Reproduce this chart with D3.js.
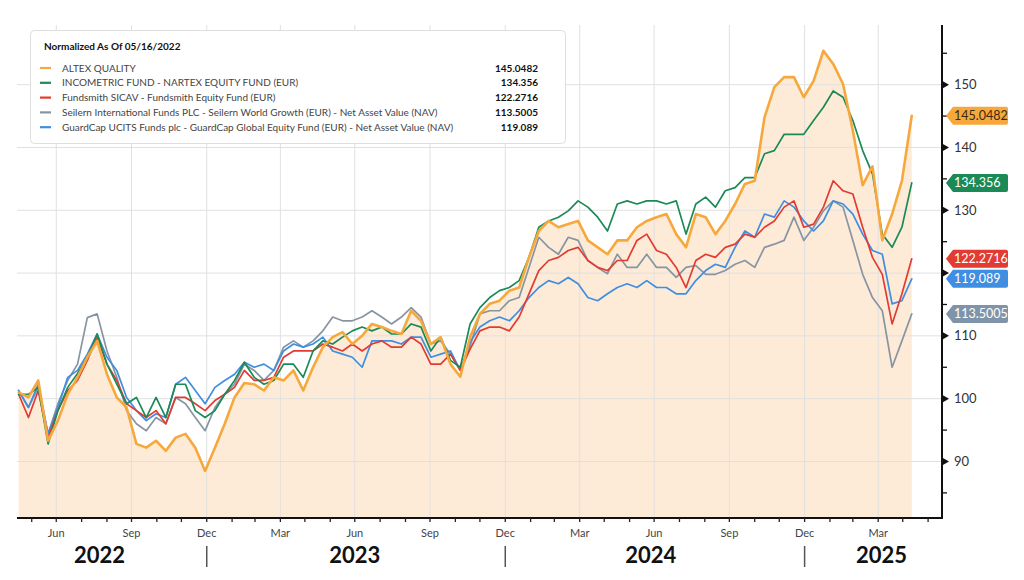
<!DOCTYPE html>
<html>
<head>
<meta charset="utf-8">
<script src="https://cdn.jsdelivr.net/npm/d3@7"></script>
<style>
  body { margin: 0; background: #fff; }
  svg { font-family: Lato, "Open Sans", sans-serif; }
  .grid line { stroke: #e0e0e0; stroke-width: 1; }
  .series { fill: none; stroke-linejoin: round; stroke-linecap: round; }
</style>
</head>
<body>
<div id="chart-container"></div>
<script>

// Data: one value every 12 days, starting 05/16/2022.
const startDate = new Date(2022, 4, 16);
const stepDays = 12;

const seriesNames = [
  "ALTEX QUALITY",
  "INCOMETRIC FUND - NARTEX EQUITY FUND (EUR)",
  "Fundsmith SICAV - Fundsmith Equity Fund (EUR)",
  "Seilern International Funds PLC - Seilern World Growth (EUR) - Net Asset Value (NAV)",
  "GuardCap UCITS Funds plc - GuardCap Global Equity Fund (EUR) - Net Asset Value (NAV)"
];
const lastValues = ["145.0482", "134.356", "122.2716", "113.5005", "119.089"];

const altex = [
  101.0, 100.2, 102.9, 93.3, 96.5, 100.7, 103.4, 106.6, 109.2, 103.9, 100.2, 98.6, 92.8, 92.2, 93.3, 91.7, 93.8, 94.4, 92.2, 88.5, 92.2, 96.0, 100.2, 102.5,
  102.3, 101.3, 103.4, 102.9, 104.5, 101.3, 105.0, 108.2, 109.8, 110.6, 108.7, 110.0, 111.9, 111.4, 110.8, 110.3, 114.0, 112.4, 108.7, 109.8, 105.5, 103.5, 109.8,
  113.5, 115.1, 115.6, 117.2, 117.7, 122.5, 126.7, 128.3, 127.3, 127.8, 128.3, 125.2, 124.1, 123.0, 125.2, 125.2, 127.3, 128.3, 128.9, 129.4, 126.2, 124.1,
  129.4, 128.9, 126.2, 128.3, 131.0, 134.2, 134.7, 144.8, 149.6, 151.2, 151.2, 148.0, 150.6, 155.4, 153.3, 150.1, 142.7, 134.0, 137.0, 125.2, 129.4, 134.7, 145.0482
];
const incometric = [
  100.7, 100.7, 101.8, 92.8, 98.1, 101.8, 104.0, 106.6, 110.3, 105.5, 102.3, 99.2, 100.2, 97.0, 100.2, 97.0, 102.3, 102.3, 98.1, 97.0, 98.1, 100.7, 102.9, 105.8,
  103.4, 102.3, 102.9, 105.5, 105.5, 103.4, 107.6, 109.2, 108.7, 109.8, 110.8, 111.4, 110.8, 111.4, 110.3, 110.3, 111.9, 111.4, 107.6, 109.8, 106.1, 105.0, 111.9,
  114.5, 116.1, 117.2, 117.7, 118.8, 122.5, 127.3, 128.3, 128.9, 129.9, 131.5, 130.5, 128.9, 126.7, 131.0, 131.5, 131.0, 131.5, 131.5, 131.0, 131.5, 126.2,
  131.0, 132.1, 130.5, 133.1, 133.6, 135.2, 135.2, 139.0, 139.5, 142.1, 142.1, 142.1, 144.3, 146.4, 149.0, 148.0, 144.3, 139.5, 135.8, 126.2, 124.1, 127.3, 134.356
];
const fundsmith = [
  100.7, 97.0, 101.3, 93.8, 98.1, 101.3, 102.9, 106.1, 109.8, 105.5, 102.9, 99.2, 98.1, 97.0, 98.1, 96.0, 100.2, 100.2, 99.2, 98.1, 99.7, 100.7, 101.8, 104.5,
  102.9, 102.9, 103.4, 106.6, 107.6, 107.6, 107.6, 108.7, 108.2, 107.6, 108.7, 107.6, 108.7, 109.2, 108.2, 108.2, 109.8, 108.7, 105.5, 105.5, 107.1, 104.5, 107.9,
  110.8, 111.4, 111.4, 110.8, 113.0, 116.7, 120.4, 122.0, 122.5, 123.6, 124.1, 122.0, 120.9, 120.4, 122.0, 122.0, 125.2, 126.2, 123.6, 123.0, 120.9, 117.7,
  122.0, 123.0, 122.5, 124.1, 124.6, 126.2, 125.7, 127.3, 128.3, 130.5, 131.5, 127.3, 127.8, 130.5, 134.7, 133.1, 132.6, 127.3, 122.5, 119.8, 111.9, 116.7, 122.2716
];
const seilern = [
  101.3, 98.6, 101.8, 94.4, 99.2, 102.9, 105.5, 112.9, 113.5, 107.6, 103.4, 98.1, 96.0, 94.9, 97.0, 96.0, 100.2, 99.2, 97.0, 94.9, 98.6, 100.7, 102.3, 105.5,
  104.5, 102.9, 104.5, 108.2, 109.2, 108.2, 109.2, 110.8, 113.0, 112.4, 112.4, 113.0, 114.0, 113.0, 111.9, 113.0, 114.5, 113.0, 108.7, 109.2, 107.1, 104.5, 108.4,
  113.5, 114.0, 114.0, 115.6, 116.1, 120.9, 125.7, 124.1, 123.0, 125.7, 125.2, 122.0, 120.9, 119.9, 123.0, 120.9, 120.9, 123.0, 120.9, 120.9, 119.3, 120.9,
  121.2, 119.8, 119.8, 120.4, 121.4, 122.0, 120.9, 124.1, 124.6, 125.2, 128.9, 125.2, 127.3, 129.9, 131.5, 130.5, 125.2, 119.8, 116.1, 114.0, 105.0, 109.2, 113.5005
];
const guardcap = [
  101.3, 98.6, 102.3, 94.4, 98.6, 103.4, 104.5, 107.1, 110.3, 106.6, 104.5, 100.2, 98.1, 96.5, 97.6, 97.0, 102.3, 103.4, 101.3, 99.2, 101.8, 102.9, 103.9, 105.8,
  105.0, 105.5, 104.5, 107.6, 108.7, 108.2, 108.7, 109.8, 107.6, 107.1, 106.6, 105.0, 109.2, 109.2, 109.2, 108.7, 109.8, 109.8, 106.6, 107.1, 107.6, 104.5, 109.0,
  111.4, 112.4, 113.0, 112.4, 114.0, 116.1, 117.7, 118.8, 118.3, 119.3, 118.3, 116.1, 115.6, 116.7, 117.7, 118.3, 117.7, 118.8, 117.7, 117.7, 116.7, 116.7,
  118.8, 120.4, 121.4, 120.9, 124.1, 126.7, 125.7, 129.4, 128.9, 131.5, 130.5, 128.3, 126.7, 128.3, 131.5, 131.0, 129.4, 126.2, 123.6, 123.0, 115.1, 115.6, 119.089
];

const yTicks = [90, 100, 110, 120, 130, 140, 150];
const yMinorTicks = [85, 95, 105, 115, 125, 135, 145, 155];
const yearLabels = ["2022", "2023", "2024", "2025"];
const yearLabelDates = [new Date(2022, 7, 23), new Date(2023, 6, 1), new Date(2024, 5, 27), new Date(2025, 3, 5)];
const yearBreaks = [new Date(2023, 0, 1), new Date(2024, 0, 1), new Date(2025, 0, 1)];

const allSeries = [altex, incometric, fundsmith, seilern, guardcap];
const colors = ["#f6a83c", "#1b8a57", "#e23b32", "#8795a2", "#3f8ee2"];
const badgeColors = ["#f6a83c", "#1b8a57", "#e23b32", "#7f94a8", "#3f8ee2"];
const badgeText = ["#3b2a12", "#fff", "#fff", "#fff", "#fff"];
const widths = [2.6, 1.7, 1.7, 1.7, 1.7];

// Sizing.
const fWidth = 1024, fHeight = 580;
const plot = { left: 17, right: 942, top: 25, bottom: 518 };

const svg = d3.select("#chart-container").append("svg")
  .attr("width", fWidth)
  .attr("height", fHeight);

const xScale = d3.scaleTime()
  .domain([new Date(2022, 4, 14), new Date(2025, 5, 18)])
  .range([plot.left, plot.right]);

const yScale = d3.scaleLinear()
  .domain([81, 159.5])
  .range([plot.bottom, plot.top]);

const dateAt = i => d3.timeDay.offset(startDate, i * stepDays);
const lastY = allSeries.map(s => yScale(s[s.length - 1]));

// Peach area under ALTEX.
const areaGen = d3.area()
  .x((d, i) => xScale(dateAt(i)))
  .y0(plot.bottom)
  .y1(d => yScale(d));

svg.append("path")
  .attr("d", areaGen(altex))
  .attr("fill", "#fdebd8");

// Grid.
const quarterTicks = xScale.ticks(d3.timeMonth.every(3));
const grid = svg.append("g").attr("class", "grid");

grid.selectAll(".hgrid")
  .data(yTicks)
  .enter()
  .append("line")
    .attr("x1", plot.left)
    .attr("x2", plot.right)
    .attr("y1", d => yScale(d))
    .attr("y2", d => yScale(d));

grid.selectAll(".vgrid")
  .data(quarterTicks)
  .enter()
  .append("line")
    .attr("x1", d => xScale(d))
    .attr("x2", d => xScale(d))
    .attr("y1", plot.top)
    .attr("y2", plot.bottom);

// Lines, drawn bottom series first so ALTEX sits on top.
const lineGen = d3.line()
  .x((d, i) => xScale(dateAt(i)))
  .y(d => yScale(d));

const order = [3, 4, 2, 1, 0];
svg.append("g")
  .selectAll("path")
  .data(order)
  .enter()
  .append("path")
    .attr("class", "series")
    .attr("d", k => lineGen(allSeries[k]))
    .attr("stroke", k => colors[k])
    .attr("stroke-width", k => widths[k]);

// Axes.
svg.append("line")
  .attr("x1", plot.left).attr("x2", plot.right)
  .attr("y1", plot.bottom).attr("y2", plot.bottom)
  .attr("stroke", "#111").attr("stroke-width", 2);

svg.append("line")
  .attr("x1", plot.right).attr("x2", plot.right)
  .attr("y1", plot.top).attr("y2", plot.bottom + 1)
  .attr("stroke", "#111").attr("stroke-width", 2);

// Month ticks.
svg.append("g")
  .selectAll("line")
  .data(xScale.ticks(d3.timeMonth))
  .enter()
  .append("line")
    .attr("x1", d => xScale(d))
    .attr("x2", d => xScale(d))
    .attr("y1", plot.bottom)
    .attr("y2", plot.bottom + 4)
    .attr("stroke", "#222")
    .attr("stroke-width", 1.3);

// Quarter labels name the month that ends at the grid line.
const monthFmt = d3.timeFormat("%b");
svg.append("g")
  .selectAll("text")
  .data(quarterTicks)
  .enter()
  .append("text")
    .attr("x", d => xScale(d))
    .attr("y", 537)
    .attr("text-anchor", "middle")
    .attr("font-size", 11)
    .attr("fill", "#444")
    .text(d => monthFmt(d3.timeMonth.offset(d, -1)));

svg.append("g")
  .selectAll("text")
  .data(yearLabels)
  .enter()
  .append("text")
    .attr("x", (d, i) => xScale(yearLabelDates[i]))
    .attr("y", 563)
    .attr("text-anchor", "middle")
    .attr("font-size", 22)
    .attr("font-weight", 700)
    .attr("fill", "#111")
    .text(d => d);

svg.append("g")
  .selectAll("line")
  .data(yearBreaks)
  .enter()
  .append("line")
    .attr("x1", d => xScale(d))
    .attr("x2", d => xScale(d))
    .attr("y1", 546)
    .attr("y2", 567)
    .attr("stroke", "#555")
    .attr("stroke-width", 1.5);

// Y ticks: triangles for labelled values, short marks in between.
svg.append("g")
  .selectAll("path")
  .data(yTicks)
  .enter()
  .append("path")
    .attr("d", d => `M${plot.right},${yScale(d) - 4} L${plot.right + 7},${yScale(d)} L${plot.right},${yScale(d) + 4} Z`)
    .attr("fill", "#111");

svg.append("g")
  .selectAll("line")
  .data(yMinorTicks)
  .enter()
  .append("line")
    .attr("x1", plot.right)
    .attr("x2", plot.right + 5)
    .attr("y1", d => yScale(d))
    .attr("y2", d => yScale(d))
    .attr("stroke", "#111")
    .attr("stroke-width", 1.3);

// Tick labels that would sit under a badge are hidden.
svg.append("g")
  .selectAll("text")
  .data(yTicks.filter(v => lastY.every(y => Math.abs(y - yScale(v)) > 12)))
  .enter()
  .append("text")
    .attr("x", 954)
    .attr("y", d => yScale(d))
    .attr("dy", "0.35em")
    .attr("font-size", 13)
    .attr("fill", "#333")
    .text(d => d);

// Last value badges.
const badges = svg.append("g")
  .selectAll("g")
  .data(allSeries)
  .enter()
  .append("g")
    .attr("transform", (d, i) => `translate(0 ${lastY[i]})`);

badges.append("path")
  .attr("d", "M946,0 L953,-9 L1006,-9 Q1008,-9 1008,-7 L1008,7 Q1008,9 1006,9 L953,9 Z")
  .attr("fill", (d, i) => badgeColors[i]);

badges.append("text")
  .attr("x", 954)
  .attr("dy", "0.36em")
  .attr("font-size", 12.5)
  .attr("fill", (d, i) => badgeText[i])
  .text((d, i) => lastValues[i]);

// Legend.
const legend = svg.append("g");

legend.append("rect")
  .attr("x", 30.5).attr("y", 30.5)
  .attr("width", 535).attr("height", 113)
  .attr("rx", 4)
  .attr("fill", "#fff")
  .attr("stroke", "#dedede");

legend.append("text")
  .attr("x", 44).attr("y", 50)
  .attr("font-size", 10)
  .attr("font-weight", 700)
  .attr("fill", "#111")
  .text("Normalized As Of 05/16/2022");

const rows = legend.selectAll(".legend-row")
  .data(seriesNames)
  .enter()
  .append("g")
    .attr("transform", (d, i) => `translate(0 ${68 + i * 14.8})`);

rows.append("line")
  .attr("x1", 40).attr("x2", 51)
  .attr("stroke", (d, i) => colors[i])
  .attr("stroke-width", 2.2);

rows.append("text")
  .attr("x", 62)
  .attr("dy", "0.35em")
  .attr("font-size", 10)
  .attr("fill", "#444")
  .text(d => d);

rows.append("text")
  .attr("x", 538)
  .attr("dy", "0.35em")
  .attr("text-anchor", "end")
  .attr("font-size", 10)
  .attr("font-weight", 700)
  .attr("fill", "#111")
  .text((d, i) => lastValues[i]);

</script>
</body>
</html>
